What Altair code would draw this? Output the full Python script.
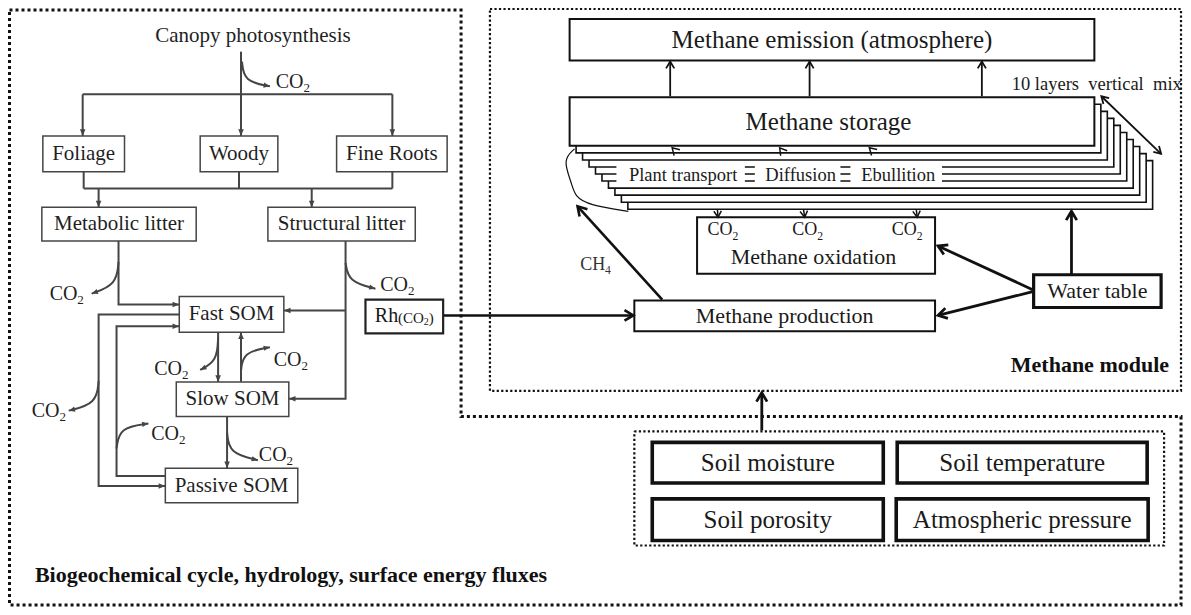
import math
import altair as alt
import pandas as pd

FONT = "'Liberation Serif', 'Times New Roman', Tinos, 'DejaVu Serif', serif"
INK_L = "#454545"
TXT_L = "#1f1f1f"
INK_R = "#111111"
TXT_R = "#1a1a1a"

X_DOMAIN = [8, 1188]
Y_DOMAIN = [8, 612]
PLOT_W, PLOT_H = 1175, 599

# ---------------- left panel boxes ----------------
LEFT_BOX_LABELS = ["Foliage", "Woody", "Fine Roots", "Metabolic litter", "Structural litter",
                   "Fast SOM", "Slow SOM", "Passive SOM"]
LEFT_BOX_X0 = [43, 201, 338, 42, 269, 180, 177, 166]
LEFT_BOX_X1 = [125, 279, 449, 197, 417, 285, 290, 299]
LEFT_BOX_Y0 = [137, 137, 137, 209, 209, 299, 385, 472]
LEFT_BOX_Y1 = [173, 173, 173, 243, 243, 335, 420, 507]
LEFT_FONT = 21

RH_BOX = [367, 445, 302, 336]

# ---------------- right panel boxes ----------------
RIGHT_BOX_LABELS = ["Methane emission (atmosphere)", "Methane production", "Water table",
                    "Soil moisture", "Soil temperature", "Soil porosity", "Atmospheric pressure"]
RIGHT_BOX_X0 = [572, 637, 1038, 655, 901, 655, 900]
RIGHT_BOX_X1 = [1099, 939, 1166, 887, 1152, 887, 1153]
RIGHT_BOX_Y0 = [19, 303, 277, 446, 446, 503, 503]
RIGHT_BOX_Y1 = [61, 334, 310, 487, 487, 545, 545]
RIGHT_BOX_STROKE = [2.0, 2.0, 3.2, 3.6, 3.6, 3.6, 3.6]
RIGHT_BOX_FONT = [25, 22, 22, 25, 25, 25, 25]

OXIDATION_BOX = [700, 939, 219, 276]
STORAGE_BOX = [572, 1099, 98, 147]
LAYERS_BEHIND = 9
LAYER_STEP = [6.5, 7.1]

# ---------------- dotted frames ----------------
OUTER_FRAME = [(9.5, 10), (463, 10), (463, 420), (1186, 420), (1186, 610), (9.5, 610), (9.5, 10)]
MODULE_FRAME = [(492, 9), (1186, 9), (1186, 394), (492, 394), (492, 9)]
SOIL_FRAME = [(637, 435), (1169, 435), (1169, 550), (637, 550), (637, 435)]

# ---------------- connectors ----------------
# (points, arrow head at end?)
LEFT_LINES = [
    ([(242, 52), (242, 137)], True),
    ([(83, 95), (394, 95)], False),
    ([(83, 95), (83, 137)], True),
    ([(394, 95), (394, 137)], True),
    ([(84, 173), (84, 190)], False),
    ([(240, 173), (240, 190)], False),
    ([(394, 173), (394, 190)], False),
    ([(84, 190), (394, 190)], False),
    ([(99, 190), (99, 209)], True),
    ([(313, 190), (313, 209)], True),
    ([(119, 243), (119, 307), (180, 307)], True),
    ([(347, 243), (347, 402), (290, 402)], True),
    ([(347, 313), (285, 313)], True),
    ([(180, 317), (99, 317), (99, 490), (166, 490)], True),
    ([(166, 480), (117, 480), (117, 329), (180, 329)], True),
    ([(219, 335), (219, 385)], True),
    ([(242, 385), (242, 335)], True),
    ([(228, 420), (228, 472)], True),
]
LEFT_CURVES = [
    [(243, 62), (245, 82), (271, 87)],
    [(119, 264), (117, 287), (92, 296)],
    [(347, 265), (350, 284), (377, 291)],
    [(219, 340), (218, 364), (201, 373)],
    [(242, 374), (244, 355), (271, 350)],
    [(99, 384), (97, 407), (69, 414)],
    [(117, 452), (120, 431), (149, 427)],
    [(228, 436), (230, 457), (259, 464)],
]
CO2_LEFT_CENTERS = [(294, 83), (67, 296), (399, 287), (172, 372), (292, 363),
                    (49, 414), (169, 438), (277, 459)]

# (points, stroke width, heads: "end"/"both"/"none")
RIGHT_LINES = [
    ([(673, 97), (673, 62)], 1.8, "end"),
    ([(813, 97), (813, 62)], 1.8, "end"),
    ([(986, 97), (986, 62)], 1.8, "end"),
    ([(1106, 97), (1166, 155)], 1.8, "both"),
    ([(445, 318), (636, 318)], 2.6, "end"),
    ([(665, 302), (580, 208)], 2.6, "end"),
    ([(1037, 292), (942, 248)], 2.8, "end"),
    ([(1037, 294), (942, 318)], 2.8, "end"),
    ([(1076, 277), (1076, 213)], 2.8, "end"),
    ([(765, 434), (765, 396)], 2.8, "end"),
    ([(688, 162), (675, 149)], 1.5, "end"),
    ([(793, 162), (783, 149)], 1.5, "end"),
    ([(887, 162), (873, 149)], 1.5, "end"),
    ([(763, 149), (773, 162)], 1.3, "none"),
    ([(714, 189), (735, 208)], 1.3, "none"),
    ([(803, 193), (817, 207)], 1.3, "none"),
    ([(823, 188), (842, 208)], 1.3, "none"),
    ([(915, 190), (935, 208)], 1.3, "none"),
]
RIGHT_CURVES = [
    ([(697, 187), (719, 187), (721, 219)], 1.5, "end"),
    ([(782, 187), (804, 188), (808, 219)], 1.5, "end"),
    ([(897, 187), (918, 189), (921, 219)], 1.5, "end"),
    ([(577, 150), (565, 161), (574, 184), (577, 198), (592, 207), (631, 213)], 1.2, "none"),
]

# stack labels with white background
STACK_WORDS = ["Plant transport", "Diffusion", "Ebullition"]
STACK_WORD_CX = [686, 804, 902]
STACK_BG_X0 = [619, 758, 854]
STACK_BG_X1 = [748, 844, 946]
STACK_BG_Y = [164, 187]
STACK_WORD_Y = 176

CO2_OX_CX = [726, 811, 911]
CO2_OX_Y = 232

CHAR_W = {"C": 0.667, "O": 0.722, "H": 0.722, "R": 0.667, "h": 0.5,
          "(": 0.333, ")": 0.333, "2": 0.5, "4": 0.5}


def text_w(t, size):
    return sum(CHAR_W.get(c, 0.5) for c in t) * size


def chem(parts, cx, y, size, color):
    total = sum(text_w(t, size * f) for t, f, _ in parts)
    x = cx - total / 2
    rows = []
    for t, f, d in parts:
        rows.append(dict(text=t, x=x, y=y + d * size, size=size * f, color=color))
        x += text_w(t, size * f)
    return rows


CO2 = [("CO", 1, 0), ("2", 0.65, 0.3)]
CH4 = [("CH", 1, 0), ("4", 0.65, 0.3)]
RH = [("Rh", 1, 0), ("(CO", 0.75, 0.06), ("2", 0.5, 0.3), (")", 0.75, 0.06)]

# ---------------- build tables ----------------
rects = []
for i in range(len(LEFT_BOX_LABELS)):
    rects.append(dict(x=LEFT_BOX_X0[i], x1=LEFT_BOX_X1[i], y=LEFT_BOX_Y0[i], y1=LEFT_BOX_Y1[i],
                      stroke=INK_L, sw=1.5, fill="white"))
rects.append(dict(x=RH_BOX[0], x1=RH_BOX[1], y=RH_BOX[2], y1=RH_BOX[3], stroke="#222222", sw=2.2, fill="white"))
for k in range(LAYERS_BEHIND, 0, -1):
    dx, dy = LAYER_STEP[0] * k, LAYER_STEP[1] * k
    rects.append(dict(x=STORAGE_BOX[0] + dx, x1=STORAGE_BOX[1] + dx, y=STORAGE_BOX[2] + dy,
                      y1=STORAGE_BOX[3] + dy, stroke=INK_R, sw=1.6, fill="white"))
rects.append(dict(x=STORAGE_BOX[0], x1=STORAGE_BOX[1], y=STORAGE_BOX[2], y1=STORAGE_BOX[3],
                  stroke=INK_R, sw=2.0, fill="white"))
rects.append(dict(x=OXIDATION_BOX[0], x1=OXIDATION_BOX[1], y=OXIDATION_BOX[2], y1=OXIDATION_BOX[3],
                  stroke=INK_R, sw=2.0, fill="white"))
for i in range(len(RIGHT_BOX_LABELS)):
    rects.append(dict(x=RIGHT_BOX_X0[i], x1=RIGHT_BOX_X1[i], y=RIGHT_BOX_Y0[i], y1=RIGHT_BOX_Y1[i],
                      stroke=INK_R, sw=RIGHT_BOX_STROKE[i], fill="white"))
rect_df = pd.DataFrame(rects)

bg_df = pd.DataFrame([dict(x=STACK_BG_X0[i], x1=STACK_BG_X1[i], y=STACK_BG_Y[0], y1=STACK_BG_Y[1])
                      for i in range(len(STACK_WORDS))])

straight, curved, heads = [], [], []
gid = 0


def angle_of(p_from, p_to):
    dx, dy = p_to[0] - p_from[0], p_to[1] - p_from[1]
    return math.degrees(math.atan2(dx, -dy)) % 360


def add_path(store, pts, w, color, head, kind, hsize):
    global gid
    gid += 1
    for j, (px, py) in enumerate(pts):
        store.append(dict(g=gid, i=j, x=px, y=py, w=w, color=color))
    if head in ("end", "both"):
        heads.append(dict(x=pts[-1][0], y=pts[-1][1], angle=angle_of(pts[-2], pts[-1]),
                          size=hsize, w=w, color=color, kind=kind))
    if head == "both":
        heads.append(dict(x=pts[0][0], y=pts[0][1], angle=angle_of(pts[1], pts[0]),
                          size=hsize, w=w, color=color, kind=kind))


for pts, hd in LEFT_LINES:
    add_path(straight, pts, 2.0, INK_L, "end" if hd else "none", "fill", 80)
for pts in LEFT_CURVES:
    add_path(curved, pts, 2.0, INK_L, "end", "fill", 70)
for pts, w, hd in RIGHT_LINES:
    add_path(straight, pts, w, INK_R, hd, "open", 200 if w > 2.2 else 120)
for pts, w, hd in RIGHT_CURVES:
    add_path(curved, pts, w, INK_R, hd, "open", 100)

line_df = pd.DataFrame(straight)
curve_df = pd.DataFrame(curved)
heads_df = pd.DataFrame(heads)

frames = []
for name, pts in (("outer", OUTER_FRAME), ("module", MODULE_FRAME), ("soil", SOIL_FRAME)):
    for j, (px, py) in enumerate(pts):
        frames.append(dict(f=name, i=j, x=px, y=py))
frame_df = pd.DataFrame(frames)

# ---------------- texts ----------------
texts_c = []
texts_c.append(dict(text="Canopy photosynthesis", x=254, y=36, size=LEFT_FONT, color=TXT_L))
for i, lab in enumerate(LEFT_BOX_LABELS):
    texts_c.append(dict(text=lab, x=(LEFT_BOX_X0[i] + LEFT_BOX_X1[i]) / 2,
                        y=(LEFT_BOX_Y0[i] + LEFT_BOX_Y1[i]) / 2, size=LEFT_FONT, color=TXT_L))
for i, lab in enumerate(RIGHT_BOX_LABELS):
    texts_c.append(dict(text=lab, x=(RIGHT_BOX_X0[i] + RIGHT_BOX_X1[i]) / 2,
                        y=(RIGHT_BOX_Y0[i] + RIGHT_BOX_Y1[i]) / 2, size=RIGHT_BOX_FONT[i], color=TXT_R))
texts_c.append(dict(text="Methane storage", x=832, y=123, size=25, color=TXT_R))
texts_c.append(dict(text="Methane oxidation", x=817, y=259, size=22, color=TXT_R))
for i, w in enumerate(STACK_WORDS):
    texts_c.append(dict(text=w, x=STACK_WORD_CX[i], y=STACK_WORD_Y, size=18.5, color=TXT_R))
texts_c_df = pd.DataFrame(texts_c)

texts_l = []
for cx, cy in CO2_LEFT_CENTERS:
    texts_l += chem(CO2, cx, cy, 20, TXT_L)
texts_l += chem(RH, 406, 319, 20, "#181818")
for cx in CO2_OX_CX:
    texts_l += chem(CO2, cx, CO2_OX_Y, 18, TXT_R)
texts_l += chem(CH4, 598, 267, 18, "#333333")
texts_l.append(dict(text="10 layers\u00a0 vertical\u00a0 mix", x=1016, y=85, size=18.5, color=TXT_R))
texts_l_df = pd.DataFrame(texts_l)

bold_l_df = pd.DataFrame([dict(text="Biogeochemical cycle, hydrology, surface energy fluxes",
                               x=35, y=580, size=22, color="#111111")])
bold_r_df = pd.DataFrame([dict(text="Methane module", x=1174, y=368, size=22, color="#111111")])

# ---------------- encodings ----------------
X = alt.X("x:Q", scale=alt.Scale(domain=X_DOMAIN, nice=False, zero=False), axis=None)
Y = alt.Y("y:Q", scale=alt.Scale(domain=Y_DOMAIN, nice=False, zero=False, reverse=True), axis=None)

frame_layers = []
for name, w, dash in (("outer", 3.0, [3, 3]), ("module", 2.2, [2.2, 2.3]), ("soil", 2.2, [2.2, 2.3])):
    frame_layers.append(
        alt.Chart(frame_df).transform_filter(alt.datum.f == name)
        .mark_line(color="#111111", strokeWidth=w, strokeDash=dash, strokeCap="butt")
        .encode(x=X, y=Y, order="i:Q")
    )

rect_layer = alt.Chart(rect_df).mark_rect().encode(
    x=X, x2="x1:Q", y=Y, y2="y1:Q",
    fill=alt.Fill("fill:N", scale=None),
    stroke=alt.Stroke("stroke:N", scale=None),
    strokeWidth=alt.StrokeWidth("sw:Q", scale=None),
)

bg_layer = alt.Chart(bg_df).mark_rect(fill="white").encode(x=X, x2="x1:Q", y=Y, y2="y1:Q")

line_layer = alt.Chart(line_df).mark_line(strokeCap="butt", strokeJoin="miter").encode(
    x=X, y=Y, detail="g:N", order="i:Q",
    stroke=alt.Stroke("color:N", scale=None),
    strokeWidth=alt.StrokeWidth("w:Q", scale=None),
)
curve_layer = alt.Chart(curve_df).mark_line(interpolate="basis", strokeCap="butt").encode(
    x=X, y=Y, detail="g:N", order="i:Q",
    stroke=alt.Stroke("color:N", scale=None),
    strokeWidth=alt.StrokeWidth("w:Q", scale=None),
)

TRI = "M0,0L-0.62,1.5L0.62,1.5Z"
VEE = "M-0.75,1.25L0,0L0.75,1.25"
fill_heads = alt.Chart(heads_df).transform_filter(alt.datum.kind == "fill").mark_point(
    shape=TRI, filled=True, opacity=1, strokeWidth=0
).encode(
    x=X, y=Y, angle=alt.Angle("angle:Q", scale=None), size=alt.Size("size:Q", scale=None),
    fill=alt.Fill("color:N", scale=None),
)
open_heads = alt.Chart(heads_df).transform_filter(alt.datum.kind == "open").mark_point(
    shape=VEE, filled=False, opacity=1, strokeJoin="miter", strokeCap="butt"
).encode(
    x=X, y=Y, angle=alt.Angle("angle:Q", scale=None), size=alt.Size("size:Q", scale=None),
    stroke=alt.Stroke("color:N", scale=None), strokeWidth=alt.StrokeWidth("w:Q", scale=None),
)


def text_layer(df, align, weight="normal"):
    return alt.Chart(df).mark_text(font=FONT, align=align, baseline="middle", fontWeight=weight).encode(
        x=X, y=Y, text="text:N",
        size=alt.Size("size:Q", scale=None),
        color=alt.Color("color:N", scale=None),
    )


chart = alt.layer(
    *frame_layers,
    line_layer, curve_layer,
    rect_layer,
    bg_layer,
    fill_heads, open_heads,
    text_layer(texts_c_df, "center"),
    text_layer(texts_l_df, "left"),
    text_layer(bold_l_df, "left", "bold"),
    text_layer(bold_r_df, "right", "bold"),
).properties(
    width=PLOT_W, height=PLOT_H, padding=0,
    autosize=alt.AutoSizeParams(type="none"),
    background="white",
).configure_view(stroke=None)

chart.save("out.html", embed_options={"renderer": "svg", "actions": False})
